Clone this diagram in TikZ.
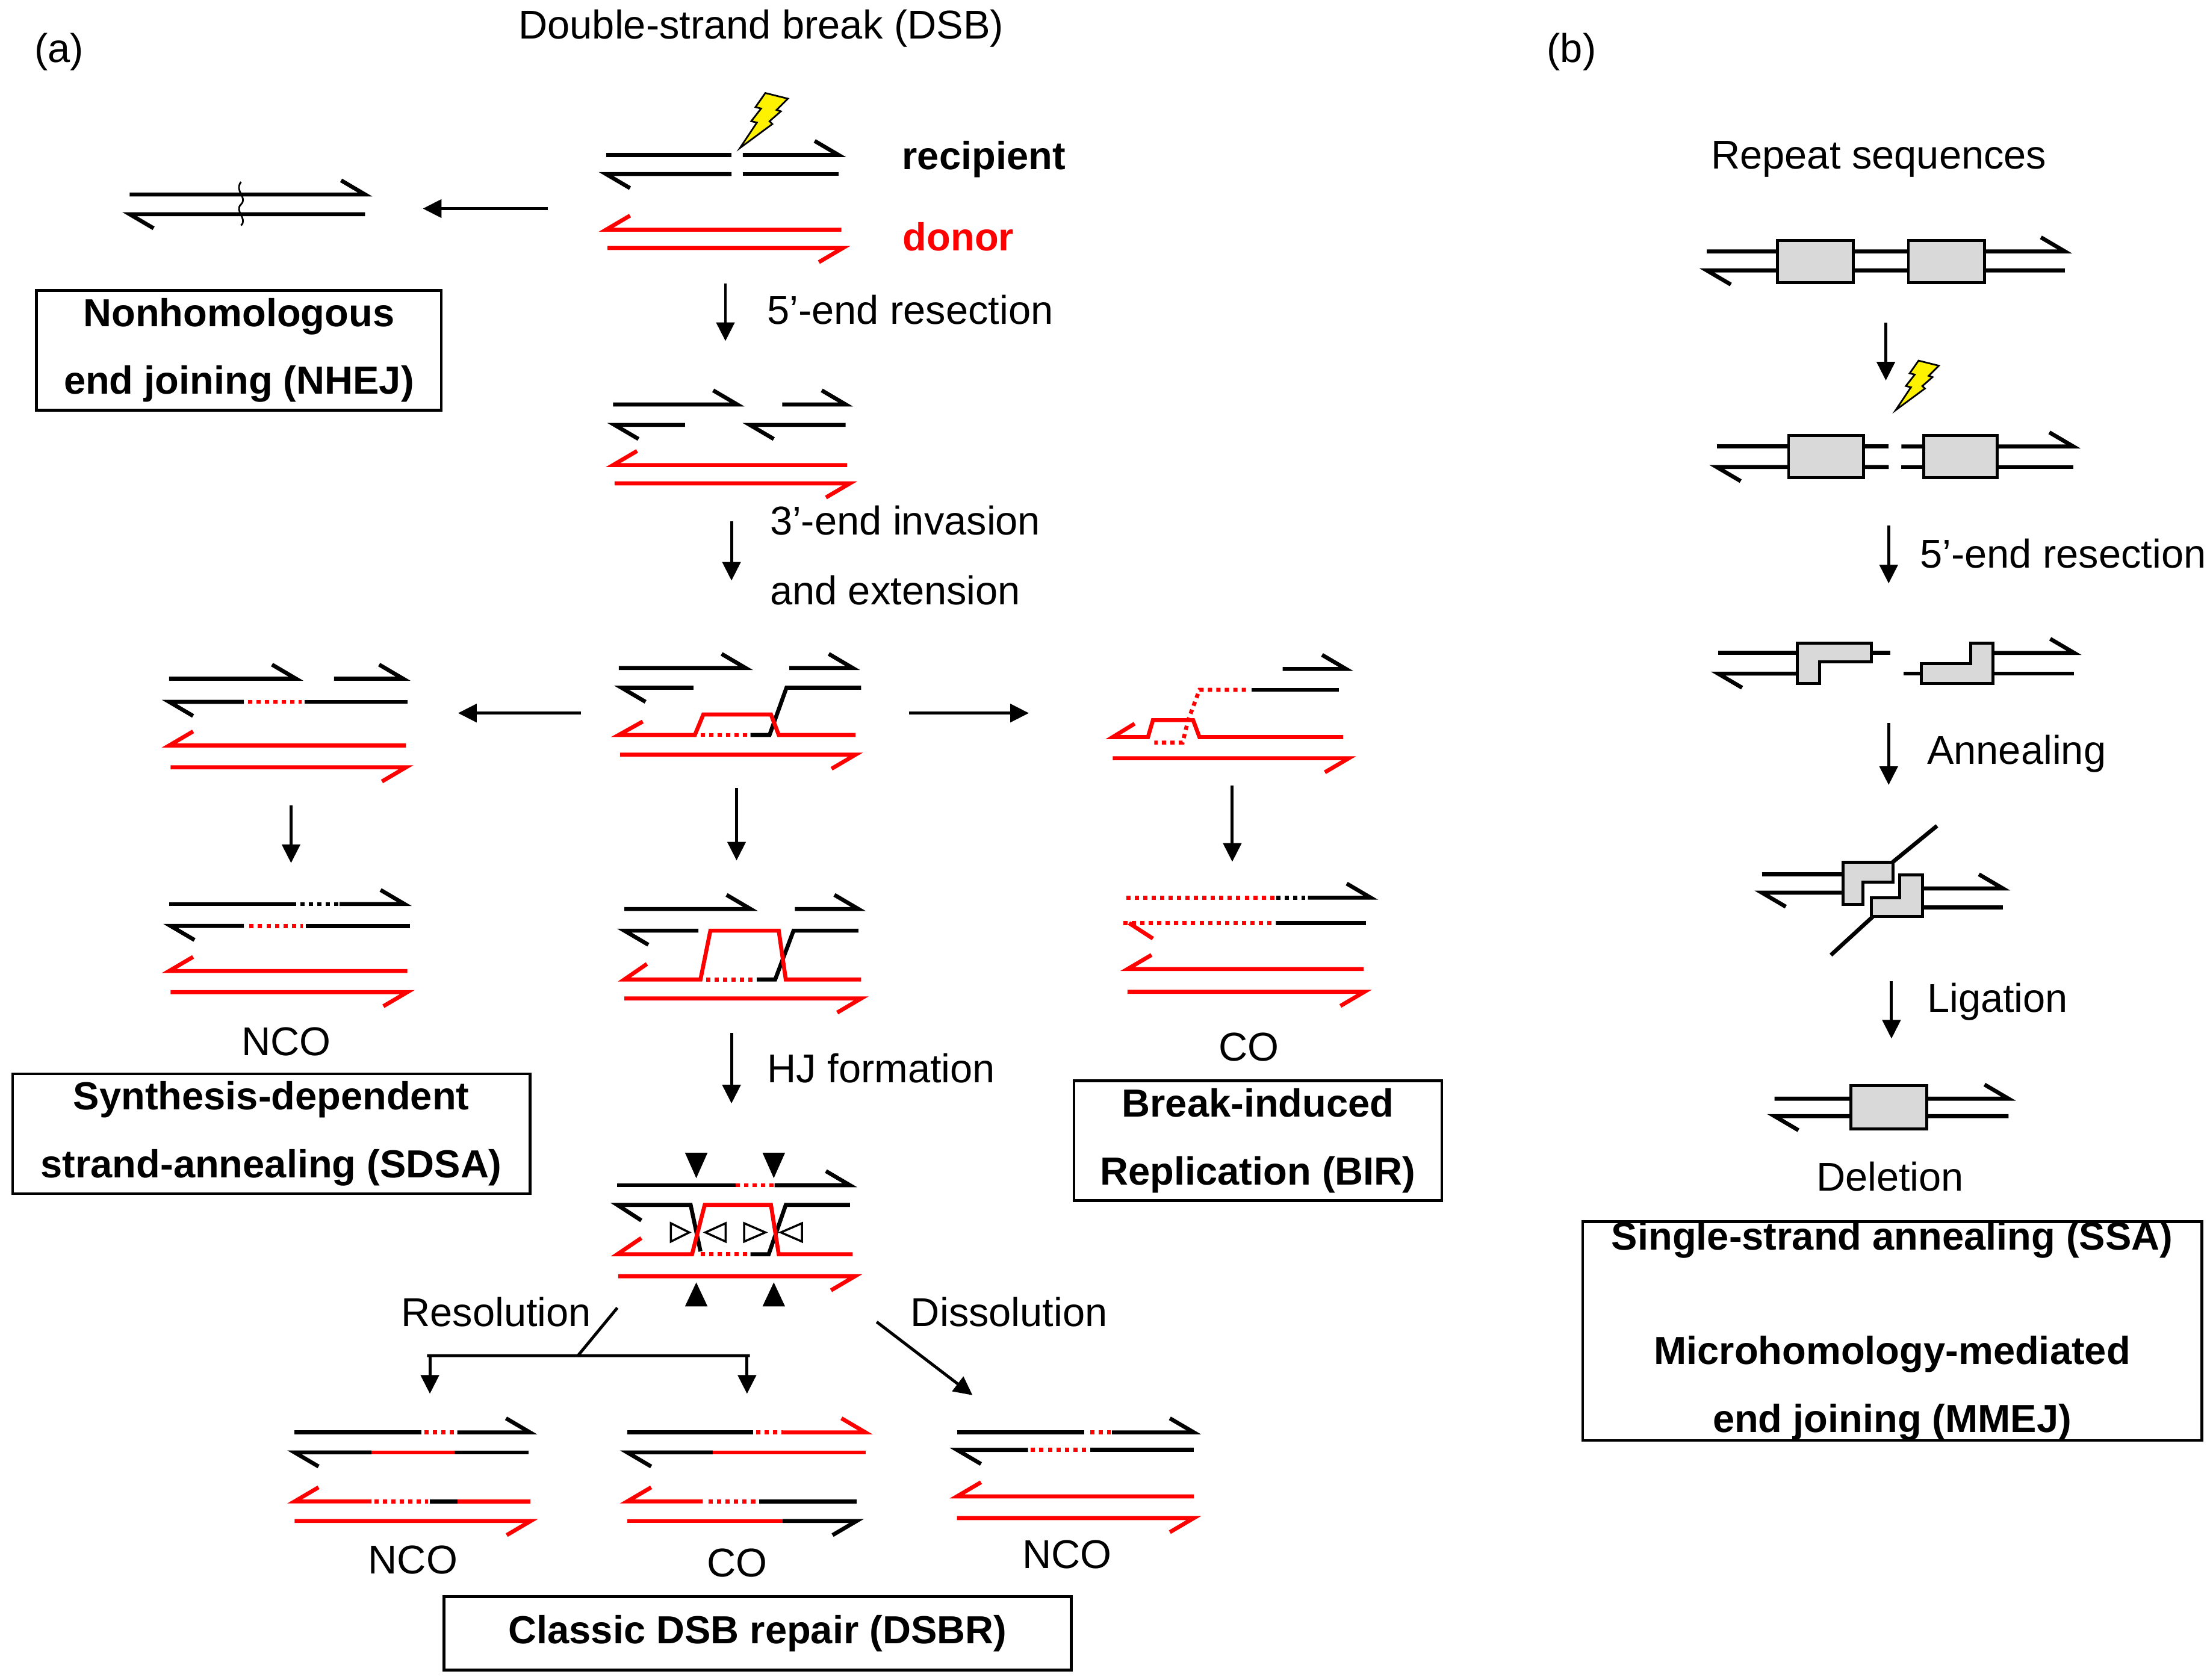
\documentclass[tikz,border=0pt]{standalone}
\usepackage{fontspec}
\setmainfont{Liberation Sans}
\usetikzlibrary{arrows.meta}

\tikzset{
  strand/.style={line width=1.9pt, line cap=butt, line join=miter},
  gap/.style={strand, dash pattern=on 2pt off 2pt},
  stepar/.style={line width=1.4pt, -{Triangle[length=0.31cm,width=0.3cm]}},
  lbl/.style={font=\fontsize{19}{23}\selectfont, inner sep=0pt},
  title/.style={draw, line width=1.3pt, align=center, inner sep=0pt,
    font=\bfseries\fontsize{18.5}{22}\selectfont},
  rep/.style={draw=black, fill=black!15, line width=1.4pt},
}
% strands: [colour]{x from}{x to}{y}
\newcommand\rfw[4][black]{\draw[strand,#1] (#2,#4) -- (#3,#4) -- ++(-17,-10);}
\newcommand\rfwdn[4][black]{\draw[strand,#1] (#2,#4) -- (#3,#4) -- ++(-17,10);}
\newcommand\lbw[4][black]{\draw[strand,#1] (#3,#4) -- (#2,#4) -- ++(17,10);}
\newcommand\lbwup[4][black]{\draw[strand,#1] (#3,#4) -- (#2,#4) -- ++(17,-10);}
\newcommand\seg[4][black]{\draw[strand,#1] (#2,#4) -- (#3,#4);}
\newcommand\dseg[4][red]{\draw[gap,#1] (#2,#4) -- (#3,#4);}
\newcommand\bolt[3]{\filldraw[fill=yellow, draw=black, line width=0.8pt, shift={(#1,#2)}, scale=#3]
  (0,0) -- (12,-18) -- (8,-19) -- (15,-28) -- (11,-29) -- (18,-39) -- (34,-35) -- (26,-27)
  -- (29,-26) -- (21,-19) -- (23,-17) -- cycle;}

\begin{document}
\begin{tikzpicture}[x=0.02341cm, y=-0.02341cm]
\useasboundingbox (0,0) rectangle (1568,1192);

% labels
\node[lbl] (pa) at (42,37) {(a)};
\node[lbl] (pb) at (1115,37) {(b)};
\node[lbl] (dsb) at (540,20) {Double-strand break (DSB)};
\node[lbl, font=\bfseries\fontsize{18.5}{22}\selectfont] (recip) at (698,113) {recipient};
\node[lbl, red, font=\bfseries\fontsize{18.5}{22}\selectfont] (donor) at (680,168) {donor};
\node[lbl, anchor=west] (resect) at (544,220) {5’-end resection};
\node[lbl, anchor=west, align=left] (invade) at (546,394) {3’-end invasion\\[10pt]and extension};
\node[lbl, anchor=west] (hjform) at (544,758) {HJ formation};
\node[lbl] (resol) at (352,931) {Resolution};
\node[lbl] (dissol) at (716,931) {Dissolution};
\node[lbl] (ncoa) at (203,739) {NCO};
\node[lbl] (coa) at (886,743) {CO};
\node[lbl] (ncob) at (293,1107) {NCO};
\node[lbl] (cob) at (523,1109) {CO};
\node[lbl] (ncoc) at (757,1103) {NCO};
\node[lbl] (repeat) at (1333,113) {Repeat sequences};
\node[lbl, anchor=west] (resectb) at (1362,393) {5’-end resection};
\node[lbl, anchor=west] (anneal) at (1367,535) {Annealing};
\node[lbl, anchor=west] (ligate) at (1367,711) {Ligation};
\node[lbl] (deletion) at (1341,835) {Deletion};

% boxes
\node[title, minimum width=6.72cm, minimum height=1.99cm] (nhej) at (169.5,248.5) {Nonhomologous\\[10pt]end joining (NHEJ)};
\node[title, minimum width=8.59cm, minimum height=1.99cm] (sdsa) at (192.5,804.5) {Synthesis-dependent\\[10pt]strand-annealing (SDSA)};
\node[title, minimum width=6.11cm, minimum height=1.99cm] (bir) at (892.5,809.5) {Break-induced\\[10pt]Replication (BIR)};
\node[title, minimum width=10.42cm, minimum height=1.22cm] (dsbr) at (537.5,1159) {Classic DSB repair (DSBR)};
\node[title, minimum width=10.28cm, minimum height=3.58cm] (ssa) at (1342.5,944.5) {Single-strand annealing (SSA)\\[32pt]Microhomology-mediated\\[10pt]end joining (MMEJ)};

% DSB
\seg{430}{519}{110} \rfw{527}{595}{110}
\lbw{430}{519}{123.5} \seg{527}{595}{123.5}
\lbwup[red]{430}{597}{163} \rfwdn[red]{431}{598}{176}
\bolt{525}{105}{1}

% NHEJ product
\rfw{92}{259}{138} \lbw{92}{259}{152}
\draw[line width=0.8pt] (171,129) .. controls (166,136) and (176,140) .. (171,145)
  .. controls (166,150) and (176,155) .. (171,160);

% resection
\rfw{435}{523}{287} \lbw{436}{486}{301.5}
\rfw{555}{600}{287} \lbw{532}{600}{301.5}
\lbwup[red]{435}{601}{330} \rfwdn[red]{436}{603}{343}

% invasion
\rfw{439}{529}{474} \rfw{560}{605}{474} \lbw{441}{492}{488}
\draw[strand] (532.5,521.5) -- (546,521.5) -- (558,488) -- (611,488);
\draw[strand,red] (456,512) -- (439,521.5) -- (493,521.5) -- (499,507) -- (547,507) -- (552.5,521.5) -- (607,521.5);
\dseg{497}{531}{521.5}
\rfwdn[red]{440}{607}{535.5}

% extended D-loop
\rfw{443}{532.5}{645} \rfw{564}{609}{645} \lbw{443}{495.5}{660.4}
\draw[strand] (537,695) -- (550,695) -- (563,660.4) -- (609,660.4);
\draw[strand,red] (459,684) -- (443,695) -- (497,695) -- (504,660.4) -- (552.5,660.4) -- (557.5,695) -- (611,695);
\dseg{501}{536}{695}
\rfwdn[red]{443}{611}{708.5}

% double Holliday junction
\seg{438}{522}{841} \dseg{522}{549}{841} \rfw{549.6}{603}{841}
\draw[strand] (455,866) -- (438,855) -- (490,855) -- (497,888);
\draw[strand] (532.5,890) -- (545.4,890) -- (557.5,855) -- (603,855);
\draw[strand,red] (455,878.5) -- (438,890) -- (491,890) -- (500,855) -- (547,855) -- (552.5,890) -- (605,890);
\dseg{497}{530}{890}
\rfwdn[red]{438.6}{606.6}{905.6}
\foreach \x in {494,549} {
  \fill (\x-8,818) -- (\x+8,818) -- (\x,836) -- cycle;
  \fill (\x-8,927) -- (\x+8,927) -- (\x,910) -- cycle;
}
\foreach \a/\b in {476/489,528/543,514.8/500.5,569/554}
  \draw[line width=1pt] (\a,868) -- (\b,874.5) -- (\a,881) -- cycle;

% SDSA
\rfw{120}{210}{481.6} \rfw{237}{286}{481.6}
\lbw{120}{173}{498} \dseg{176}{214}{498} \seg{216}{289}{498}
\lbwup[red]{120}{288}{529} \rfwdn[red]{121}{288}{544.5}
\seg{120}{210}{641.5} \dseg[black]{213}{241}{641.5} \rfw{241}{287}{641.5}
\lbw{121}{173}{657} \dseg{177}{215}{657} \seg{217}{291}{657}
\lbwup[red]{120}{289}{689} \rfwdn[red]{121}{289}{704}

% BIR
\rfw{910}{955}{474.7} \seg{888}{950}{489.5}
\draw[gap,red] (884,489.5) -- (851,489.5) -- (843,511) -- (839,527) -- (819,527);
\draw[strand,red] (805,513.5) -- (789.5,523) -- (814.5,523) -- (818,511) -- (846.5,511) -- (851,523) -- (953,523);
\rfwdn[red]{789.5}{957}{538}
\dseg{799}{905.6}{637} \dseg[black]{905.6}{926}{637} \rfw{928}{972.5}{637}
\dseg{797}{905.6}{655} \seg{905.6}{969}{655}
\draw[strand,red] (801,655) -- (818,666);
\lbwup[red]{800}{967.5}{687.6} \rfwdn[red]{800}{968}{703.8}

% resolution / dissolution products
\seg{209}{299}{1016.4} \dseg{301}{324.5}{1016.4} \rfw{324.5}{376}{1016.4}
\lbw{209}{263.6}{1030.6} \seg[red]{263.6}{322.4}{1030.6} \seg{322.4}{375}{1030.6}
\lbwup[red]{209}{263.6}{1065.4} \dseg{265.7}{303.5}{1065.4} \seg{304.8}{324.5}{1065.4} \seg[red]{324.5}{376.5}{1065.4}
\rfwdn[red]{209}{376.5}{1079.3}
\seg{445}{534.3}{1016.4} \dseg{536.4}{555.3}{1016.4} \rfw[red]{555.3}{614}{1016.4}
\lbw{445}{505.8}{1030.6} \seg[red]{505.8}{614}{1030.6}
\lbwup[red]{445}{498.6}{1065.4} \dseg{502.8}{538.5}{1065.4} \seg{538.5}{607.7}{1065.4}
\seg[red]{445}{555.3}{1079.3} \rfwdn{555.3}{607.7}{1079.3}
\seg{679}{769.3}{1016.4} \dseg{773.5}{788}{1016.4} \rfw{789}{847}{1016.4}
\lbw{679}{729.4}{1028.8} \dseg{731.4}{771.4}{1028.8} \seg{773.5}{847}{1028.8}
\lbwup[red]{679}{847}{1061.8} \rfwdn[red]{679}{847}{1077.2}

% (a) steps
\draw[stepar] (388.6,148) -- (300,148);
\draw[stepar] (514.7,201) -- (514.7,242);
\draw[stepar] (519,370) -- (519,412);
\draw[stepar] (412,506) -- (325,506);
\draw[stepar] (645,506) -- (730,506);
\draw[stepar] (522.6,559) -- (522.6,610.6);
\draw[stepar] (206.5,571.5) -- (206.5,612.4);
\draw[stepar] (874.3,557.6) -- (874.3,611.5);
\draw[stepar] (519,733) -- (519,783);
\draw[line width=1.4pt] (438,928) -- (410,962) (303,962) -- (532,962);
\draw[stepar] (305,962) -- (305,989);
\draw[stepar] (530,962) -- (530,989);
\draw[stepar] (622,938) -- (690,990);

% (b) SSA / MMEJ
\rfw{1211}{1465}{178.4} \lbw{1211}{1465}{191.9}
\draw[rep] (1261,170.8) rectangle (1315,200.6);
\draw[rep] (1354,170.8) rectangle (1408,200.6);
\seg{1218}{1340}{316.8} \lbw{1218}{1340}{331.4}
\rfw{1349}{1471}{316.8} \seg{1349}{1471}{331.4}
\draw[rep] (1269,309) rectangle (1322,339);
\draw[rep] (1365,309) rectangle (1417,339);
\bolt{1345}{291}{0.9}
\seg{1219}{1341}{463.3} \lbw{1219}{1275}{478}
\draw[rep] (1275,456.3) -- (1327.6,456.3) -- (1327.6,469.8) -- (1291,469.8) -- (1291,485) -- (1275,485) -- cycle;
\seg{1350.7}{1471.6}{478} \rfw{1413.5}{1471.6}{463.3}
\draw[rep] (1363,470.8) -- (1398,470.8) -- (1398,456.3) -- (1414,456.3) -- (1414,485) -- (1363,485) -- cycle;
\seg{1250}{1307.6}{620.5} \lbw{1250}{1307.6}{633.4}
\draw[rep] (1347.7,621) -- (1363.9,621) -- (1363.9,650.2) -- (1327.6,650.2) -- (1327.6,637.2) -- (1347.7,637.2) -- cycle;
\draw[rep] (1307.6,611.7) -- (1342.9,611.7) -- (1342.9,625.8) -- (1321.9,625.8) -- (1321.9,641.8) -- (1307.6,641.8) -- cycle;
\draw[strand] (1342.9,611.7) -- (1374.3,586);
\draw[strand] (1329,650.2) -- (1299,677.7);
\rfw{1363.9}{1421}{630.4} \seg{1363.9}{1421}{643.8}
\rfw{1259}{1425}{779.6} \lbw{1259}{1425}{792}
\draw[rep] (1313,770.4) rectangle (1367,801.2);
\draw[stepar] (1338,229) -- (1338,270);
\draw[stepar] (1340,373) -- (1340,414);
\draw[stepar] (1340,513) -- (1340,557);
\draw[stepar] (1342,696) -- (1342,737);
\end{tikzpicture}
\end{document}
